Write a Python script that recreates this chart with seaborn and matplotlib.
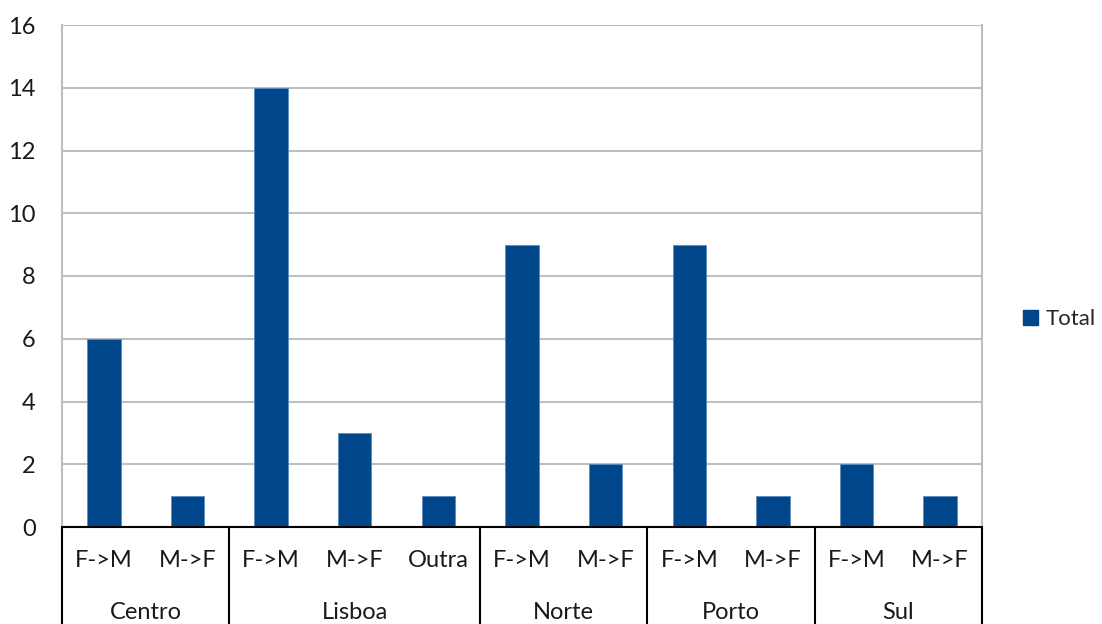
import matplotlib
matplotlib.use("Agg")
import matplotlib.pyplot as plt
import matplotlib.patches as mpatches
import matplotlib.transforms as mtransforms
import seaborn as sns
import pandas as pd

# Data: region -> transition type -> count
regions = ["Centro", "Centro", "Lisboa", "Lisboa", "Lisboa", "Norte", "Norte",
           "Porto", "Porto", "Sul", "Sul"]
transitions = ["F->M", "M->F", "F->M", "M->F", "Outra", "F->M", "M->F",
               "F->M", "M->F", "F->M", "M->F"]
totals = [6, 1, 14, 3, 1, 9, 2, 9, 1, 2, 1]
y_ticks = [0, 2, 4, 6, 8, 10, 12, 14, 16]

df = pd.DataFrame({"region": regions, "transition": transitions, "Total": totals})
df["key"] = df["region"] + "|" + df["transition"]

sns.set_theme(style="white")
plt.rcParams["font.family"] = ["Lato", "DejaVu Sans"]

BAR = "#00468A"
GRID = "#BFBFBF"
TXT = "#1a1a1a"
FS = 17

fig = plt.figure(figsize=(11.02, 6.24), dpi=100)
ax = fig.add_axes([62 / 1102, 97 / 624, 920 / 1102, 502 / 624])

sns.barplot(data=df, x="key", y="Total", order=list(df["key"]), color=BAR,
            width=0.4, saturation=1, edgecolor="#5A8CC0", linewidth=0.6, ax=ax, zorder=3)

ax.set_ylim(0, 16)
ax.set_xlim(-0.5, len(df) - 0.5)
ax.set_yticks(y_ticks)
ax.set_yticklabels([str(v) for v in y_ticks], fontsize=FS, color=TXT)
ax.tick_params(axis="y", length=0, pad=19)
ax.set_xticks([])
ax.set_xlabel("")
ax.set_ylabel("")
ax.yaxis.grid(True, color=GRID, linewidth=1.5, zorder=0)
for side in ["top", "bottom"]:
    ax.spines[side].set_visible(False)
for side in ["left", "right"]:
    ax.spines[side].set_color(GRID)
    ax.spines[side].set_linewidth(1.5)

# Two-level category axis drawn below the plot
trans = mtransforms.blended_transform_factory(ax.transData, ax.transAxes)
y_bottom = -0.2
ax.plot([-0.5, len(df) - 0.5], [0, 0], color="black", lw=1.5, transform=trans,
        clip_on=False, zorder=5)
for i, t in enumerate(df["transition"]):
    ax.text(i, -0.067, t, transform=trans, ha="center", va="center",
            fontsize=FS, color=TXT)

bounds = [-0.5]
groups = []
start = 0
for i in range(1, len(df) + 1):
    if i == len(df) or df["region"][i] != df["region"][start]:
        groups.append((df["region"][start], start, i - 1))
        bounds.append(i - 0.5)
        start = i
for b in bounds:
    ax.plot([b, b], [0, y_bottom], color="black", lw=1.5, transform=trans,
            clip_on=False, zorder=5)
for name, s, e in groups:
    ax.text((s + e) / 2, -0.17, name, transform=trans, ha="center", va="center",
            fontsize=FS, color=TXT)

handle = mpatches.Patch(color=BAR, label="Total")
fig.legend(handles=[handle], loc="center left", bbox_to_anchor=(1023 / 1102, 1 - 319 / 624),
           frameon=False, fontsize=16, handlelength=0.68, handleheight=0.68,
           handletextpad=0.35, borderpad=0, borderaxespad=0)

fig.savefig("out.png", dpi=100)
